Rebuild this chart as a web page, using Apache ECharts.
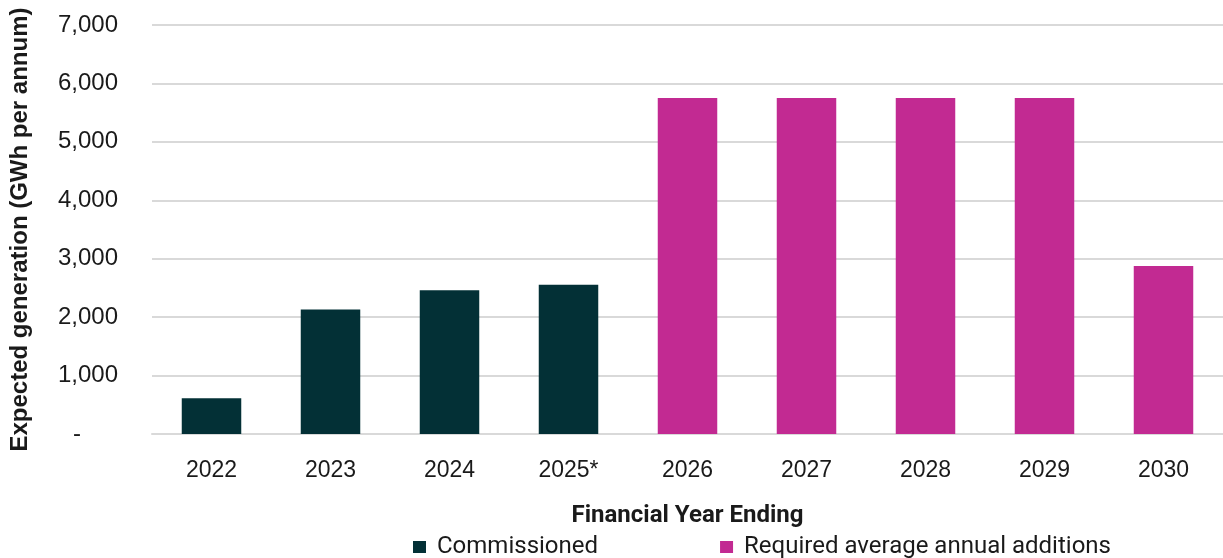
<!DOCTYPE html>
<html><head><meta charset="utf-8">
<script src="https://cdn.jsdelivr.net/npm/echarts@6/dist/echarts.min.js"></script>
<style>html,body{margin:0;padding:0;background:#fff}#c{width:1223px;height:558px}</style>
</head><body><div id="c"></div>
<script>
const categories = ['2022','2023','2024','2025*','2026','2027','2028','2029','2030'];
const commissioned = [610, 2130, 2460, 2555, null, null, null, null, null];
const required = [null, null, null, null, 5750, 5750, 5750, 5750, 2875];
const yTicks = [0, 1000, 2000, 3000, 4000, 5000, 6000, 7000];

const chart = echarts.init(document.getElementById('c'));
chart.setOption({
  animation: false,
  grid: {left: 152, right: -8, top: 25, bottom: 124},
  legend: {
    left: 408, top: 530, itemWidth: 13, itemHeight: 12, itemGap: 122,
    icon: 'rect',
    textStyle: {fontFamily: 'Roboto', fontSize: 24, color: '#1a1a1a', padding: [0,0,0,6]},
    data: ['Commissioned', 'Required average annual additions']
  },
  xAxis: {
    type: 'category', data: categories,
    name: 'Financial Year Ending', nameLocation: 'middle', nameGap: 70,
    nameTextStyle: {fontFamily: 'Roboto', fontSize: 24, fontWeight: 'bold', color: '#1a1a1a'},
    axisLine: {lineStyle: {color: '#d9d9d9', width: 2}},
    axisTick: {show: false},
    axisLabel: {fontFamily: 'Liberation Sans', fontSize: 23, color: '#1a1a1a', margin: 25}
  },
  yAxis: {
    type: 'value', min: yTicks[0], max: yTicks[yTicks.length-1], interval: 1000,
    name: 'Expected generation (GWh per annum)', nameLocation: 'middle', nameGap: 120,
    nameTextStyle: {fontFamily: 'Liberation Sans', fontSize: 24, fontWeight: 'bold', color: '#1a1a1a'},
    axisLine: {show: false}, axisTick: {show: false},
    splitLine: {lineStyle: {color: '#d9d9d9', width: 2}},
    axisLabel: {
      fontFamily: 'Liberation Sans', fontSize: 24, color: '#1a1a1a', margin: 34,
      formatter: v => v === 0 ? '{d|-}' : v.toLocaleString('en-US'),
      rich: {d: {fontFamily: 'Liberation Sans', fontSize: 24, color: '#1a1a1a', padding: [0, 37, 0, 0]}}
    }
  },
  series: [
    {name: 'Commissioned', type: 'bar', stack: 's', barWidth: '50%', data: commissioned,
     itemStyle: {color: '#033036'}},
    {name: 'Required average annual additions', type: 'bar', stack: 's', barWidth: '50%', data: required,
     itemStyle: {color: '#C22A92'}}
  ]
});
</script></body></html>
